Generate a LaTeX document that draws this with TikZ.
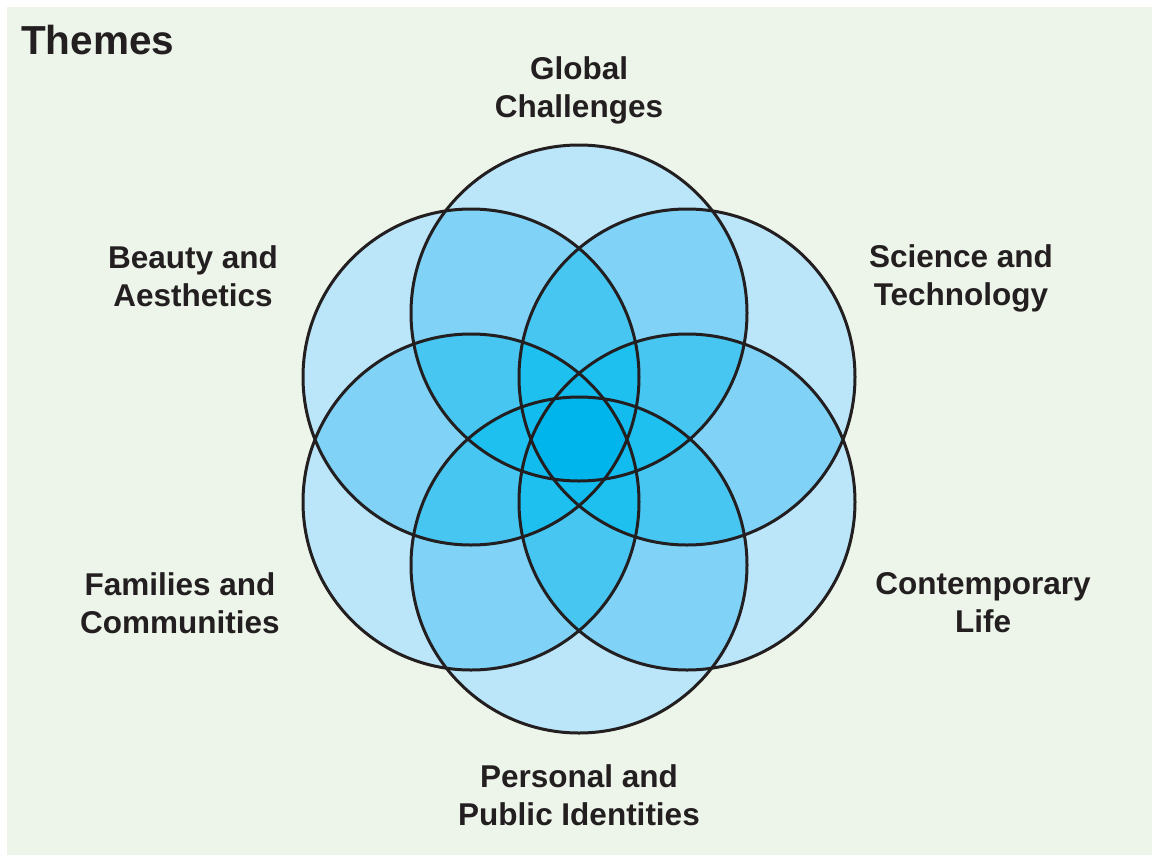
\documentclass[tikz,border=0pt]{standalone}
\usepackage{fontspec}
\setmainfont{Liberation Sans}
\definecolor{bg}{HTML}{EDF5EA}
\definecolor{ink}{HTML}{231F20}
\definecolor{lA}{HTML}{BBE5F9}
\definecolor{lB}{HTML}{80D3F6}
\definecolor{lC}{HTML}{48C6F2}
\definecolor{lD}{HTML}{1EC0F0}
\definecolor{lE}{HTML}{12BCEE}
\definecolor{lF}{HTML}{00B4EC}
\tikzset{
  ring/.style={draw=ink, line width=3pt},
  lab/.style={align=center, text=ink, font=\fontsize{31.5}{38}\selectfont\bfseries, inner sep=0pt},
  ttl/.style={anchor=west, text=ink, font=\fontsize{40.5}{46}\selectfont\bfseries, inner sep=0pt}
}
\begin{document}
\begin{tikzpicture}[x=1pt,y=-1pt]
\useasboundingbox (0,0) rectangle (1152,855);
\fill[bg] (7,7) rectangle (1152,855);
\def\R{168pt}
\coordinate (c1) at (579,313);
\coordinate (c2) at (471,377);
\coordinate (c3) at (471,502);
\coordinate (c4) at (579,565);
\coordinate (c5) at (687,502);
\coordinate (c6) at (687,377);
% level 1
\foreach \i in {1,...,6}{\fill[lA] (c\i) circle[radius=\R];}
% level 2
\foreach \i in {1,...,6}{\foreach \j in {\i,...,6}{\ifnum\j>\i\relax
  \begin{scope}\clip (c\i) circle[radius=\R];\fill[lB] (c\j) circle[radius=\R];\end{scope}\fi}}
% level 3
\foreach \i in {1,...,6}{\foreach \j in {\i,...,6}{\foreach \k in {\j,...,6}{%
  \ifnum\j>\i\relax\ifnum\k>\j\relax
  \begin{scope}\clip (c\i) circle[radius=\R];\clip (c\j) circle[radius=\R];\fill[lC] (c\k) circle[radius=\R];\end{scope}\fi\fi}}}
% level 4
\foreach \i in {1,...,6}{\foreach \j in {\i,...,6}{\foreach \k in {\j,...,6}{\foreach \l in {\k,...,6}{%
  \ifnum\j>\i\relax\ifnum\k>\j\relax\ifnum\l>\k\relax
  \begin{scope}\clip (c\i) circle[radius=\R];\clip (c\j) circle[radius=\R];\clip (c\k) circle[radius=\R];\fill[lD] (c\l) circle[radius=\R];\end{scope}\fi\fi\fi}}}}
% level 5
\begin{scope}\clip (c2) circle[radius=\R];\clip (c3) circle[radius=\R];\clip (c4) circle[radius=\R];\clip (c5) circle[radius=\R];\fill[lE] (c6) circle[radius=\R];\end{scope}
\begin{scope}\clip (c1) circle[radius=\R];\clip (c3) circle[radius=\R];\clip (c4) circle[radius=\R];\clip (c5) circle[radius=\R];\fill[lE] (c6) circle[radius=\R];\end{scope}
\begin{scope}\clip (c1) circle[radius=\R];\clip (c2) circle[radius=\R];\clip (c4) circle[radius=\R];\clip (c5) circle[radius=\R];\fill[lE] (c6) circle[radius=\R];\end{scope}
\begin{scope}\clip (c1) circle[radius=\R];\clip (c2) circle[radius=\R];\clip (c3) circle[radius=\R];\clip (c5) circle[radius=\R];\fill[lE] (c6) circle[radius=\R];\end{scope}
\begin{scope}\clip (c1) circle[radius=\R];\clip (c2) circle[radius=\R];\clip (c3) circle[radius=\R];\clip (c4) circle[radius=\R];\fill[lE] (c6) circle[radius=\R];\end{scope}
\begin{scope}\clip (c1) circle[radius=\R];\clip (c2) circle[radius=\R];\clip (c3) circle[radius=\R];\clip (c4) circle[radius=\R];\fill[lE] (c5) circle[radius=\R];\end{scope}
% level 6
\begin{scope}\clip (c1) circle[radius=\R];\clip (c2) circle[radius=\R];\clip (c3) circle[radius=\R];\clip (c4) circle[radius=\R];\clip (c5) circle[radius=\R];\fill[lF] (c6) circle[radius=\R];\end{scope}
% outlines
\foreach \i in {1,...,6}{\draw[ring] (c\i) circle[radius=\R];}
% labels
\node[ttl] (themes) at (21,40) {Themes};
\node[lab] (global) at (579,90) {Global\\Challenges};
\node[lab] (beauty) at (193,276) {Beauty and\\Aesthetics};
\node[lab] (science) at (961,278) {Science and\\Technology};
\node[lab] (families) at (180,603) {Families and\\Communities};
\node[lab] (contemp) at (983,603) {Contemporary\\Life};
\node[lab] (personal) at (579,795) {Personal and\\Public Identities};
\end{tikzpicture}
\end{document}
